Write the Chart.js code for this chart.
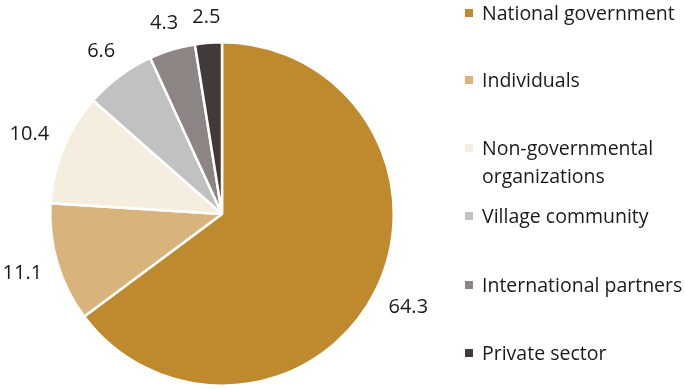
<!DOCTYPE html>
<html>
<head>
<meta charset="utf-8">
<script src="https://cdn.jsdelivr.net/npm/chart.js@4"></script>
<style>
  body { margin: 0; background: #fff; }
  #wrap { position: relative; width: 685px; height: 389px; }
  #legend { position: absolute; left: 0; top: 0; font-family: "Open Sans", sans-serif; font-size: 19.5px; color: #1a1a1a; }
  .item { position: absolute; left: 465px; white-space: nowrap; line-height: 28px; }
  .box { position: absolute; left: 0; top: 10px; width: 8px; height: 8px; }
  .txt { position: absolute; left: 17px; top: 0; }
</style>
</head>
<body>
<div id="wrap">
  <canvas id="pieChart" width="685" height="389"></canvas>
  <div id="legend"></div>
</div>
<script>
// Chart data
const categories = [
  "National government",
  "Individuals",
  "Non-governmental organizations",
  "Village community",
  "International partners",
  "Private sector"
];
const legendLines = [
  ["National government"],
  ["Individuals"],
  ["Non-governmental", "organizations"],
  ["Village community"],
  ["International partners"],
  ["Private sector"]
];
const shares = [64.3, 11.1, 10.4, 6.6, 4.3, 2.5];
const colors = ["#BF8A2E", "#D9B37C", "#F5EEDF", "#C1C1C1", "#8C8583", "#423939"];
const legendTops = [-1, 66, 134, 202, 271, 339];

// Value labels outside each slice, box edge kept a fixed gap from the rim
const outsideLabels = {
  id: "outsideLabels",
  afterDatasetsDraw(chart) {
    const ctx = chart.ctx;
    const meta = chart.getDatasetMeta(0);
    ctx.save();
    ctx.font = "20px 'Open Sans', sans-serif";
    ctx.fillStyle = "#1a1a1a";
    ctx.textAlign = "center";
    ctx.textBaseline = "middle";
    meta.data.forEach((arc, i) => {
      const text = shares[i].toFixed(1);
      const w = ctx.measureText(text).width;
      const h = 18;
      const mid = (arc.startAngle + arc.endAngle) / 2;
      const c = Math.cos(mid), s = Math.sin(mid);
      const d = arc.outerRadius + 15 + Math.abs(c) * w / 2 + Math.abs(s) * h / 2;
      ctx.fillText(text, arc.x + c * d, arc.y + s * d);
    });
    ctx.restore();
  }
};

new Chart(document.getElementById("pieChart"), {
  type: "pie",
  data: {
    labels: categories,
    datasets: [
      {
        data: shares,
        backgroundColor: colors,
        borderColor: "#fff",
        borderWidth: 2.5
      }
    ]
  },
  options: {
    responsive: false,
    animation: false,
    layout: {
      padding: { left: 49, top: 41, right: 290, bottom: 2 }
    },
    plugins: {
      legend: { display: false },
      tooltip: { enabled: false }
    }
  },
  plugins: [outsideLabels]
});

// Build legend
const legend = document.getElementById("legend");
categories.forEach((name, i) => {
  const item = document.createElement("div");
  item.className = "item";
  item.style.top = legendTops[i] + "px";
  const box = document.createElement("div");
  box.className = "box";
  box.style.background = colors[i];
  const txt = document.createElement("div");
  txt.className = "txt";
  txt.innerHTML = legendLines[i].join("<br>");
  item.appendChild(box);
  item.appendChild(txt);
  legend.appendChild(item);
});
</script>
</body>
</html>
